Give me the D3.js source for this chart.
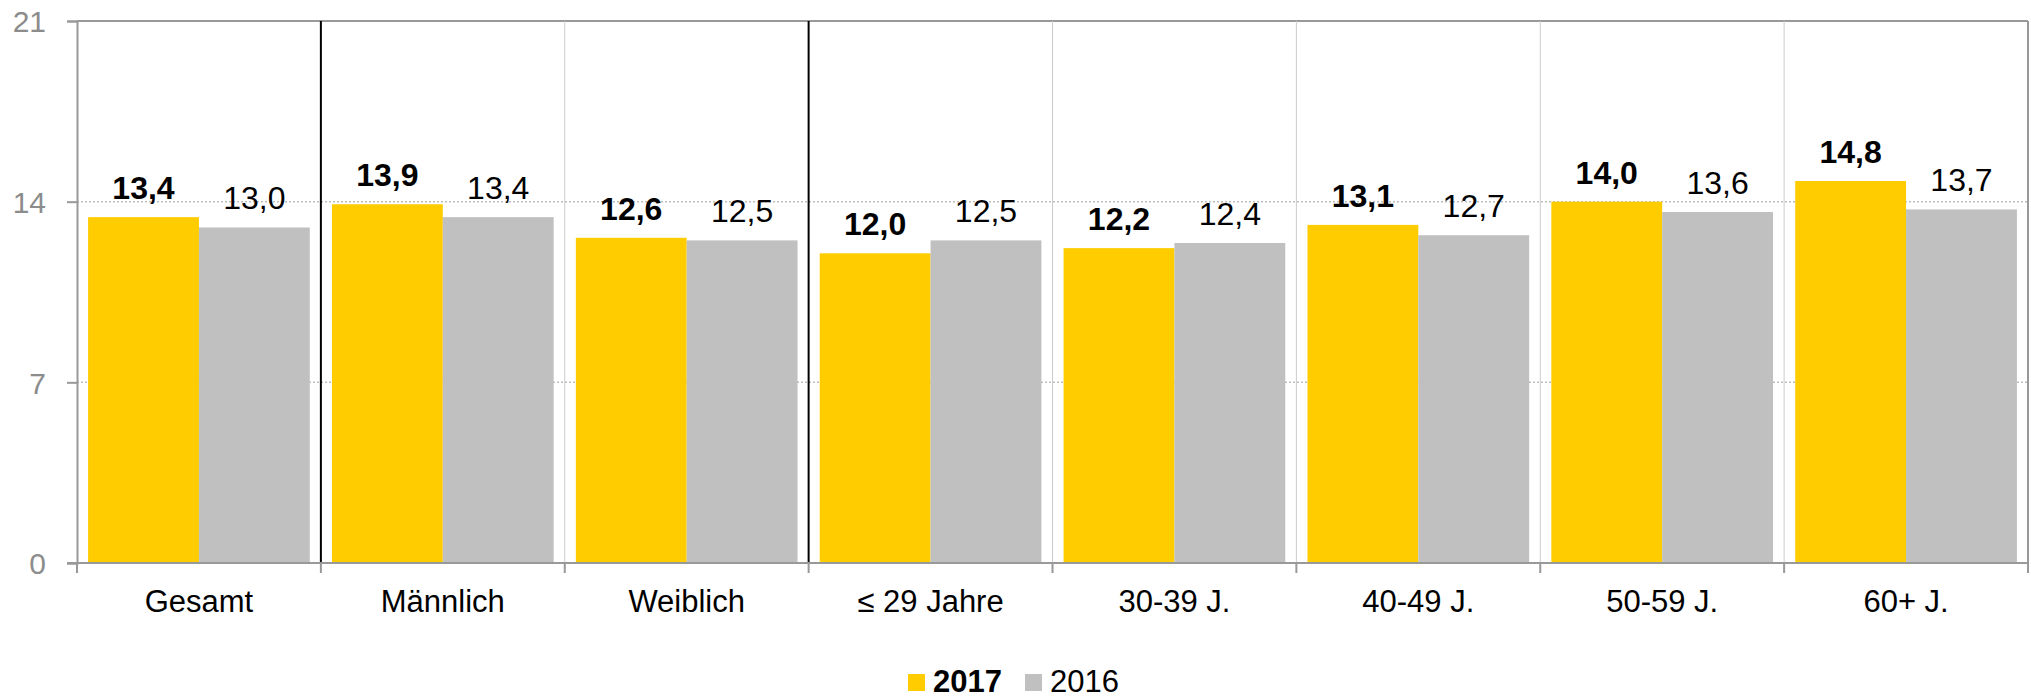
<!DOCTYPE html>
<html>
<head>
<meta charset="utf-8">
<script src="https://cdn.jsdelivr.net/npm/d3@7"></script>
<style>
  body { margin: 0; background: #fff; }
  svg text { font-family: "Liberation Sans", Arial, sans-serif; }
</style>
</head>
<body>
<div id="chart"></div>
<script>
const categories = ["Gesamt", "Männlich", "Weiblich", "≤ 29 Jahre", "30-39 J.", "40-49 J.", "50-59 J.", "60+ J."];
const series = ["2017", "2016"];
const values2017 = [13.4, 13.9, 12.6, 12.0, 12.2, 13.1, 14.0, 14.8];
const values2016 = [13.0, 13.4, 12.5, 12.5, 12.4, 12.7, 13.6, 13.7];
const yTicks = [0, 7, 14, 21];
const separators = [1, 3]; // black lines after these many categories

const width = 2031, height = 700;
const margin = { top: 21, right: 3, bottom: 137, left: 77 };
const colors = { "2017": "#FFCC00", "2016": "#C0C0C0" };

const data = categories.map((c, i) => ({ cat: c, "2017": values2017[i], "2016": values2016[i] }));

const svg = d3.select("#chart").append("svg")
    .attr("width", width)
    .attr("height", height);

const x = d3.scaleBand()
    .domain(categories)
    .range([margin.left, width - margin.right])
    .paddingInner(0).paddingOuter(0);

const xSub = d3.scaleBand()
    .domain(series)
    .range([0, x.step()])
    .paddingInner(0).paddingOuter(0.1);

const y = d3.scaleLinear()
    .domain([0, 21])
    .range([height - margin.bottom, margin.top]);

// dotted gridlines
svg.append("g")
   .selectAll("line")
   .data([7, 14])
   .enter().append("line")
   .attr("x1", margin.left).attr("x2", width - margin.right)
   .attr("y1", d => y(d)).attr("y2", d => y(d))
   .attr("stroke", "#bdbdbd")
   .attr("stroke-width", 1.5)
   .attr("stroke-dasharray", "2,2");

// top line
svg.append("line")
   .attr("x1", margin.left).attr("x2", width - margin.right)
   .attr("y1", y(21)).attr("y2", y(21))
   .attr("stroke", "#999").attr("stroke-width", 2);

// vertical category lines
const boundaries = d3.range(1, categories.length + 1);
svg.append("g")
   .selectAll("line")
   .data(boundaries)
   .enter().append("line")
   .attr("x1", d => margin.left + d * x.step())
   .attr("x2", d => margin.left + d * x.step())
   .attr("y1", y(21)).attr("y2", y(0))
   .attr("stroke", d => separators.includes(d) ? "#000" : (d === categories.length ? "#999" : "#cccccc"))
   .attr("stroke-width", d => separators.includes(d) ? 2 : (d === categories.length ? 2 : 1));

// bars
const groups = svg.append("g")
   .selectAll("g")
   .data(data)
   .enter().append("g")
   .attr("transform", d => `translate(${x(d.cat)},0)`);

groups.selectAll("rect")
   .data(d => series.map(s => ({ s, v: d[s] })))
   .enter().append("rect")
   .attr("x", d => xSub(d.s))
   .attr("width", xSub.bandwidth())
   .attr("y", d => y(d.v))
   .attr("height", d => y(0) - y(d.v))
   .attr("fill", d => colors[d.s]);

groups.selectAll("text")
   .data(d => series.map(s => ({ s, v: d[s] })))
   .enter().append("text")
   .attr("x", d => xSub(d.s) + xSub.bandwidth() / 2)
   .attr("y", d => y(d.v) - 18)
   .attr("text-anchor", "middle")
   .style("font-size", "32px")
   .style("font-weight", d => d.s === "2017" ? "bold" : "normal")
   .attr("fill", "#000")
   .text(d => d.v.toFixed(1).replace(".", ","));

// y axis
const yAxis = svg.append("g")
   .attr("transform", `translate(${margin.left},0)`)
   .call(d3.axisLeft(y).tickValues(yTicks).tickSize(10).tickPadding(21));
yAxis.select(".domain").attr("stroke", "#999").attr("stroke-width", 2);
yAxis.selectAll(".tick line").attr("stroke", "#999").attr("stroke-width", 2);
yAxis.selectAll(".tick text")
   .attr("fill", "#8c8c8c")
   .style("font-size", "30px")
   .attr("dy", "0.36em");

// x axis line with boundary ticks
svg.append("line")
   .attr("x1", margin.left - 10).attr("x2", width - margin.right)
   .attr("y1", y(0)).attr("y2", y(0))
   .attr("stroke", "#999").attr("stroke-width", 2);

svg.append("g")
   .selectAll("line")
   .data(d3.range(0, categories.length + 1))
   .enter().append("line")
   .attr("x1", d => margin.left + d * x.step())
   .attr("x2", d => margin.left + d * x.step())
   .attr("y1", y(0)).attr("y2", y(0) + 10)
   .attr("stroke", "#999").attr("stroke-width", 2);

const xAxis = svg.append("g")
   .attr("transform", `translate(0,${y(0)})`)
   .call(d3.axisBottom(x).tickSize(0).tickPadding(0));
xAxis.select(".domain").remove();
xAxis.selectAll(".tick text")
   .attr("y", 49)
   .attr("dy", 0)
   .attr("fill", "#000")
   .style("font-size", "31px");

// legend
const legend = svg.append("g").attr("transform", "translate(908,0)");
const legendItems = [{ s: "2017", x: 0, bold: true }, { s: "2016", x: 117, bold: false }];
const li = legend.selectAll("g")
   .data(legendItems)
   .enter().append("g")
   .attr("transform", d => `translate(${d.x},0)`);
li.append("rect")
   .attr("x", 0).attr("y", 674)
   .attr("width", 17).attr("height", 17)
   .attr("fill", d => colors[d.s]);
li.append("text")
   .attr("x", 25).attr("y", 692)
   .style("font-size", "31px")
   .style("font-weight", d => d.bold ? "bold" : "normal")
   .attr("fill", "#000")
   .text(d => d.s);
</script>
</body>
</html>
